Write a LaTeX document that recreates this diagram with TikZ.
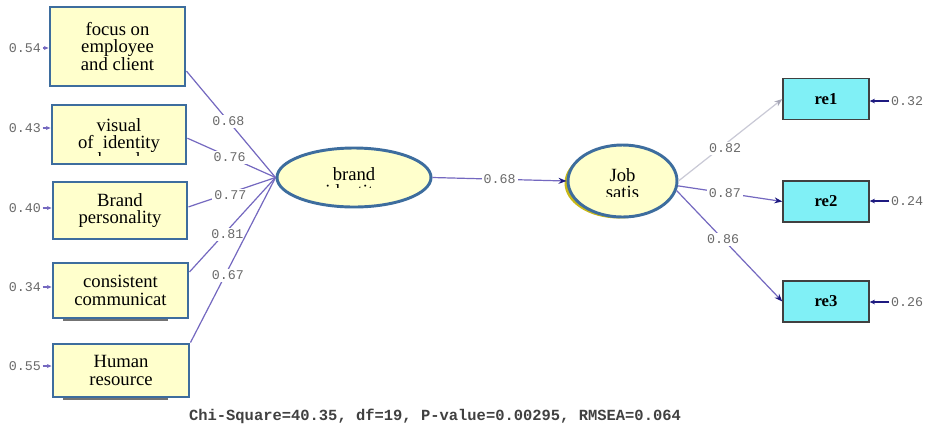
\documentclass[tikz,border=0pt]{standalone}
\usepackage{fontspec}
\setmainfont{Liberation Serif}
\newfontfamily\lisrelmono{Liberation Mono}
\usetikzlibrary{shapes.geometric,arrows.meta,calc}

\definecolor{boxfill}{HTML}{FFFFCC}
\definecolor{boxedge}{HTML}{3D6D9E}
\definecolor{pathline}{HTML}{7468C0}
\definecolor{numgrey}{HTML}{6A6A6A}
\definecolor{obsfill}{HTML}{80F0F6}
\definecolor{tipnavy}{HTML}{1E1A80}
\definecolor{fadeline}{HTML}{C9C9D6}
\definecolor{fadetip}{HTML}{A8A8B8}
\definecolor{shadowolive}{HTML}{C8B818}

\tikzset{
  indbox/.style={draw=boxedge, line width=2.2pt, fill=boxfill, inner sep=0pt,
    align=center, font=\fontsize{14}{13}\selectfont},
  latent/.style={ellipse, draw=boxedge, line width=2.2pt, fill=boxfill, inner sep=0pt},
  latenttext/.style={inner sep=0pt, align=center, font=\fontsize{14}{13}\selectfont},
  obsbox/.style={draw=black!75, line width=1pt, fill=obsfill, inner sep=0pt,
    minimum width=64.5pt, minimum height=30.75pt,
    font=\bfseries\fontsize{12.5}{14}\selectfont},
  num/.style={font=\lisrelmono\fontsize{10}{11}\selectfont, text=numgrey, inner sep=1pt},
  coef/.style={num, fill=white, inner sep=1.5pt},
  loading/.style={draw=pathline, line width=0.9pt},
  errarrow/.style={draw=tipnavy, line width=1.2pt, -{Stealth[length=4pt,width=3.5pt]}},
  errarrowthin/.style={draw=pathline, line width=0.8pt, -{Stealth[length=3.5pt,width=3pt]}},
  pathtip/.style={-{Stealth[length=6pt,width=4.5pt,color=tipnavy]}},
  shadowbar/.style={fill=black!55, draw=none}
}

\begin{document}
\begin{tikzpicture}[x=0.75pt,y=-0.75pt]
  % canvas
  \fill[white] (0,0) rectangle (925,430);
  \useasboundingbox (0,0) rectangle (925,430);

  % shadows left by the underlying boxes
  \fill[shadowbar] (63,318) rectangle (168,321);
  \fill[shadowbar] (63,397) rectangle (168,400);

  % indicator boxes of brand identity
  \node[indbox, minimum width=101.25pt, minimum height=59.25pt] (f1) at (117.5,46.5)
    {focus on\\employee\\and client};
  \node[indbox, minimum width=100.5pt, minimum height=44.25pt] (f2) at (119,134.5) {};
  \node[indbox, minimum width=100.5pt, minimum height=42.75pt] (f3) at (120,210.5)
    {Brand\\personality};
  \node[indbox, minimum width=101.25pt, minimum height=41.25pt] (f4) at (120.5,290.5)
    {consistent\\communicat};
  \node[indbox, minimum width=102pt, minimum height=39.75pt] (f5) at (121,370.5)
    {Human\\resource};
  \begin{scope}
    \clip (55,107) rectangle (184,155);
    \node[latenttext] (f2txt) at (119,142) {visual\\of\ \ identity\\brand};
  \end{scope}

  % latent variables
  \fill[shadowolive] (619,183) ellipse [x radius=54.5, y radius=35.5];
  \node[latent, minimum width=115.5pt, minimum height=44.25pt] (brand) at (354,177.5) {};
  \node[latent, minimum width=81.75pt, minimum height=54pt] (job) at (622.5,181) {};
  \begin{scope}
    \clip (290,150) rectangle (420,187.5);
    \node[latenttext] (brandtxt) at (354,184.5) {brand\\identity};
  \end{scope}
  \begin{scope}
    \clip (580,148) rectangle (665,196);
    \node[latenttext] (jobtxt) at (622.5,183.5) {Job\\satis};
  \end{scope}

  % observed indicators of job satisfaction
  \node[obsbox] (r1) at (826,99) {re1};
  \node[obsbox] (r2) at (826,201.5) {re2};
  \node[obsbox] (r3) at (826,301.5) {re3};

  % loadings of brand identity
  \draw[loading] ($(f1.north east)!0.8!(f1.south east)$) -- (brand.west)
    node[coef, pos=0.47] {0.68};
  \draw[loading] ($(f2.north east)!0.56!(f2.south east)$) -- (brand.west)
    node[coef, pos=0.48] {0.76};
  \draw[loading] ($(f3.north east)!0.44!(f3.south east)$) -- (brand.west)
    node[coef, pos=0.48, yshift=-2pt] {0.77};
  \draw[loading] ($(f4.north east)!0.18!(f4.south east)$) -- (brand.west)
    node[coef, pos=0.44, yshift=-3pt] {0.81};
  \draw[loading] (f5.north east) -- (brand.west)
    node[coef, pos=0.44, yshift=-4pt] {0.67};

  % structural path
  \draw[loading, pathtip] (brand.east) -- (job.west) node[coef, pos=0.5] {0.68};

  % loadings of job satisfaction
  \draw[draw=fadeline, line width=0.9pt, -{Stealth[length=6pt,width=4.5pt,color=fadetip]}]
    (job.east) -- (r1.west) node[coef, pos=0.45, yshift=-3pt] {0.82};
  \draw[loading, pathtip] (job.-5) -- (r2.west) node[coef, pos=0.45] {0.87};
  \draw[loading, pathtip] (job.-10) -- (r3.west) node[coef, pos=0.44] {0.86};

  % error variances, left side
  \node[num] (e1) at (25,48) {0.54};
  \node[num] (e2) at (25,128) {0.43};
  \node[num] (e3) at (25,208) {0.40};
  \node[num] (e4) at (25,287) {0.34};
  \node[num] (e5) at (25,366) {0.55};
  \foreach \e/\f in {e1/f1,e2/f2,e3/f3,e4/f4,e5/f5}
    \draw[errarrowthin] (\e.east) -- (\e.east -| \f.west);

  % error variances, right side
  \node[num] (d1) at (907,101) {0.32};
  \node[num] (d2) at (907,201) {0.24};
  \node[num] (d3) at (907,302) {0.26};
  \foreach \d/\r in {d1/r1,d2/r2,d3/r3}
    \draw[errarrow] (\d.west) -- (\d.west -| \r.east);

  % fit statistics
  \node[font=\lisrelmono\bfseries\fontsize{11.6}{12}\selectfont, text=black!75] (fit)
    at (435,416) {Chi-Square=40.35, df=19, P-value=0.00295, RMSEA=0.064};
\end{tikzpicture}
\end{document}
